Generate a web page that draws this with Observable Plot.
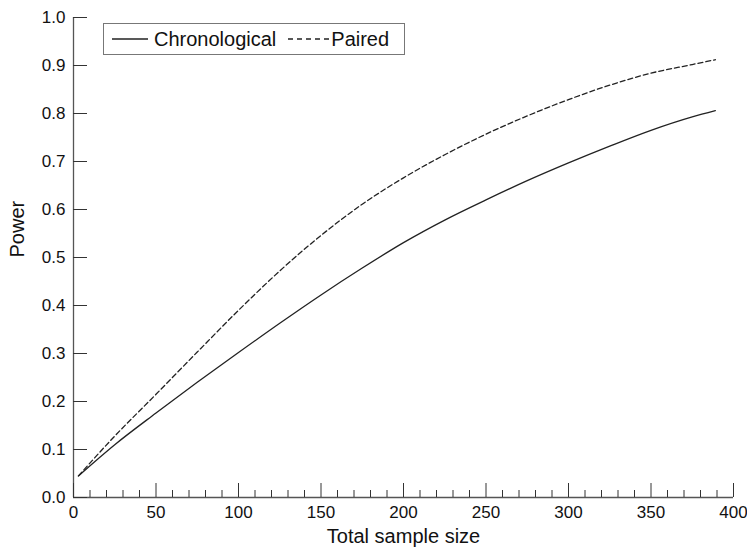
<!DOCTYPE html>
<html><head><meta charset="utf-8">
<script src="https://cdn.jsdelivr.net/npm/d3@7"></script>
<script src="https://cdn.jsdelivr.net/npm/@observablehq/plot@0.6"></script>
<style>
body{margin:0;background:#fff;}
#wrap{position:relative;width:747px;height:551px;font-family:"Liberation Sans",Arial,sans-serif;}
#legend{position:absolute;left:103px;top:23px;width:300px;height:30px;border:1.2px solid #777;background:#fff;display:flex;align-items:center;font-size:20px;color:#111;white-space:nowrap;}
#legend svg{display:block;}
</style></head>
<body><div id="wrap"></div>
<script>
const sampleSize    = [3, 25, 50, 75, 100, 125, 150, 175, 200, 225, 250, 275, 300, 325, 350, 375, 389];
const chronological = [0.045, 0.110, 0.176, 0.240, 0.302, 0.363, 0.422, 0.478, 0.531, 0.578, 0.620, 0.660, 0.697, 0.732, 0.765, 0.793, 0.806];
const paired        = [0.045, 0.128, 0.215, 0.303, 0.390, 0.472, 0.546, 0.611, 0.666, 0.714, 0.757, 0.795, 0.829, 0.859, 0.884, 0.902, 0.912];
const seriesNames = ["Chronological", "Paired"];
const xMajorTicks = [0, 50, 100, 150, 200, 250, 300, 350, 400];
const xMinorTicks = [10, 20, 30, 40, 60, 70, 80, 90, 110, 120, 130, 140, 160, 170, 180, 190, 210, 220, 230, 240, 260, 270, 280, 290, 310, 320, 330, 340, 360, 370, 380, 390];
const yTicks = [0, 0.1, 0.2, 0.3, 0.4, 0.5, 0.6, 0.7, 0.8, 0.9, 1.0];
const xLabel = "Total sample size";
const yLabel = "Power";

const rows = [];
sampleSize.forEach((n, i) => {
  rows.push({n, power: chronological[i], series: seriesNames[0]});
  rows.push({n, power: paired[i], series: seriesNames[1]});
});

const chart = Plot.plot({
  width: 747, height: 551,
  marginLeft: 73, marginRight: 14, marginTop: 17, marginBottom: 54,
  x: {domain: [0, 400]},
  y: {domain: [0, 1]},
  style: {fontFamily: "'Liberation Sans', Arial, sans-serif", fontSize: "17px", color: "#111", background: "#fff"},
  marks: [
    Plot.ruleX([0], {stroke: "#555", strokeWidth: 1.3}),
    Plot.ruleY([0], {stroke: "#555", strokeWidth: 1.3}),
    Plot.axisY(yTicks, {tickSize: -14, tickPadding: 22, tickFormat: d3.format(".1f"), label: null, stroke: "#333", fontSize: 17}),
    Plot.axisX(xMajorTicks, {tickSize: -14, tickPadding: 22, tickFormat: d3.format("d"), label: null, stroke: "#333", fontSize: 17}),
    Plot.axisX(xMinorTicks, {tickSize: -7, tickPadding: 0, tickFormat: () => "", label: null, stroke: "#333"}),
    Plot.text([xLabel], {frameAnchor: "bottom", dy: 45, fontSize: 20, fill: "#111"}),
    Plot.text([yLabel], {frameAnchor: "left", dx: -56, rotate: -90, fontSize: 20, fill: "#111"}),
    Plot.line(rows.filter(d => d.series === seriesNames[0]), {x: "n", y: "power", stroke: "#222", strokeWidth: 1.3, curve: "monotone-x"}),
    Plot.line(rows.filter(d => d.series === seriesNames[1]), {x: "n", y: "power", stroke: "#222", strokeWidth: 1.3, strokeDasharray: "5,3", curve: "monotone-x"})
  ]
});

const wrap = document.getElementById("wrap");
wrap.appendChild(chart);
const legend = document.createElement("div");
legend.id = "legend";
legend.innerHTML =
  `<svg width="44" height="10" style="margin-left:8px"><line x1="0" x2="36" y1="5" y2="5" stroke="#222" stroke-width="1.3"/></svg>` +
  `<span style="margin-left:-2px">${seriesNames[0]}</span>` +
  `<svg width="44" height="10" style="margin-left:12px"><line x1="0" x2="42" y1="5" y2="5" stroke="#222" stroke-width="1.3" stroke-dasharray="5,4"/></svg>` +
  `<span style="margin-left:-1px">${seriesNames[1]}</span>`;
wrap.appendChild(legend);
</script>
</body></html>
